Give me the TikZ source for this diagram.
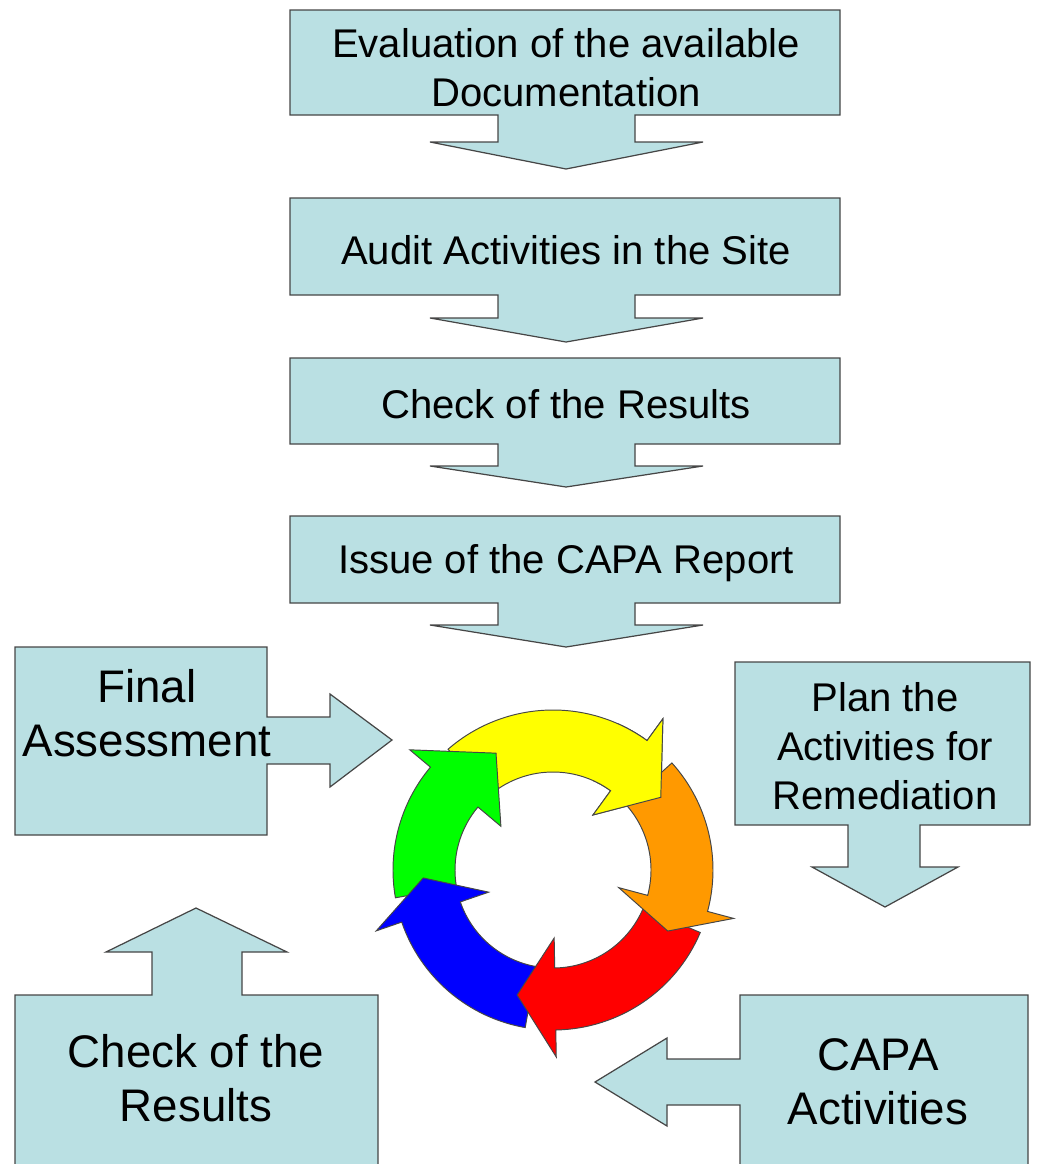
\documentclass[tikz,border=0pt]{standalone}
\usepackage{fontspec}
\setmainfont{Liberation Sans}
\definecolor{capablue}{RGB}{186,224,227}
\definecolor{capaline}{RGB}{70,70,70}
\definecolor{ringyellow}{RGB}{255,255,0}
\definecolor{ringorange}{RGB}{255,153,0}
\definecolor{ringred}{RGB}{255,0,0}
\definecolor{ringblue}{RGB}{0,0,255}
\definecolor{ringgreen}{RGB}{0,255,0}
% one piece of the ring: colour, tail angle, head base angle, tip angle
\newcommand{\ringarrow}[4]{%
	\filldraw[ringline, fill=#1] (#2:160) arc[start angle=#2, end angle=#3, radius=160]
		-- (#3:187) -- (#4:130) -- (#3:68) -- (#3:98)
		arc[start angle=#3, end angle=#2, radius=98] -- cycle;}
\begin{document}
\begin{tikzpicture}[x=0.02cm, y=-0.02cm,
	callout/.style={fill=capablue, draw=capaline, line width=0.7pt, line join=miter},
	ringline/.style={draw=capaline, line width=0.55pt, line join=miter},
	smalltxt/.style={align=center, font=\fontsize{22.8}{28}\selectfont},
	bigtxt/.style={align=center, font=\fontsize{26}{30.5}\selectfont}]
	\useasboundingbox (0,0) rectangle (1037,1164);
	\clip (0,0) rectangle (1037,1164);

	%top column of down callouts
	\foreach \t/\b/\s/\p in {10/115/142/169, 198/295/318/342, 358/444/466/487, 516/603/625/647}{
		\draw[callout] (290,\t) -- (840,\t) -- (840,\b) -- (635,\b) -- (635,\s) -- (703,\s)
			-- (566,\p) -- (430,\s) -- (498,\s) -- (498,\b) -- (290,\b) -- cycle;
	}
	\node[smalltxt] (eval) at (566,68) {Evaluation of the available\\Documentation};
	\node[smalltxt] (audit) at (566,250) {Audit Activities in the Site};
	\node[smalltxt] (check) at (566,404) {Check of the Results};
	\node[smalltxt] (issue) at (566,563) {Issue of the CAPA Report};

	%callouts round the ring
	\draw[callout] (15,647) -- (267,647) -- (267,717) -- (330,717) -- (330,694) -- (392,740)
		-- (330,787) -- (330,764) -- (267,764) -- (267,835) -- (15,835) -- cycle;
	\node[bigtxt] (final) at (147,713) {Final\\Assessment};

	\draw[callout] (735,662) -- (1030,662) -- (1030,825) -- (920,825) -- (920,867) -- (958,867)
		-- (885,907) -- (812,867) -- (848,867) -- (848,825) -- (735,825) -- cycle;
	\node[smalltxt] (plan) at (885,746) {Plan the\\Activities for\\Remediation};

	\draw[callout] (15,1180) -- (15,995) -- (152,995) -- (152,952) -- (106,952) -- (196,908)
		-- (287,952) -- (242,952) -- (242,995) -- (378,995) -- (378,1180) -- cycle;
	\node[bigtxt] (results) at (196,1078) {Check of the\\Results};

	\draw[callout] (1028,1180) -- (1028,995) -- (740,995) -- (740,1059) -- (667,1059) -- (667,1038)
		-- (595,1082) -- (667,1126) -- (667,1105) -- (740,1105) -- (740,1180) -- cycle;
	\node[bigtxt] (capa) at (878,1082) {CAPA\\Activities};

	%ring of arrows
	\begin{scope}[shift={(553,870)}, yscale=-1]
		\ringarrow{ringyellow}{131}{54}{34}
		\ringarrow{ringgreen}{190}{140}{116}
		\ringarrow{ringblue}{260}{199}{183.5}
		\ringarrow{ringred}{337}{271}{254}
		\ringarrow{ringorange}{42}{-15}{-28}
		\begin{scope}
			\clip (0,0) -- (66:260) -- (18:260) -- cycle;
			\ringarrow{ringyellow}{131}{54}{34}
		\end{scope}
	\end{scope}
\end{tikzpicture}
\end{document}
